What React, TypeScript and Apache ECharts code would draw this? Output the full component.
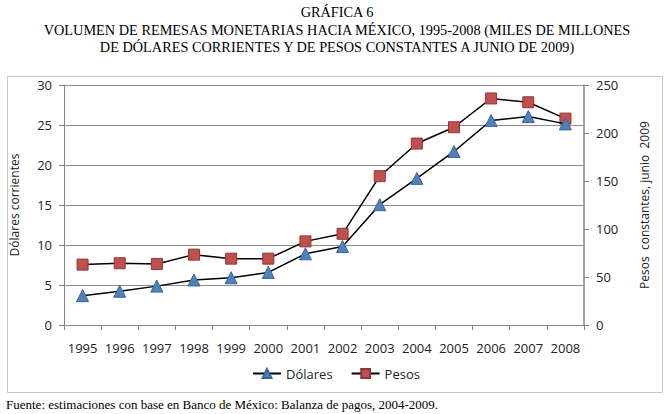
import React, { useEffect, useRef } from "react";
import * as echarts from "echarts";

const years = ["1995", "1996", "1997", "1998", "1999", "2000", "2001", "2002", "2003", "2004", "2005", "2006", "2007", "2008"];
const dolares = [3.67, 4.22, 4.86, 5.63, 5.91, 6.57, 8.9, 9.81, 15.04, 18.33, 21.69, 25.57, 26.06, 25.14];
const pesos = [62.9, 64.3, 63.6, 73.3, 69.1, 69.1, 87.1, 95.0, 155.0, 189.0, 206.0, 236.0, 232.0, 215.0];

const titleLines = [
  "GRÁFICA 6",
  "VOLUMEN DE REMESAS MONETARIAS HACIA MÉXICO, 1995-2008 (MILES DE MILLONES",
  "DE DÓLARES CORRIENTES Y DE PESOS CONSTANTES A JUNIO DE 2009)",
];
const sourceText = "Fuente: estimaciones con base en Banco de México: Balanza de pagos, 2004-2009.";
const leftName = "Dólares corrientes";
const rightName = "Pesos  constantes, junio  2009";

const sans = "Open Sans";
const serif = "Liberation Serif";

export default function App() {
  const ref = useRef<HTMLDivElement>(null);
  useEffect(() => {
    if (!ref.current) return;
    const chart = echarts.init(ref.current, undefined, { renderer: "svg" });
    const titleGraphics = titleLines.map((t, i) => ({
      type: "text",
      x: 337,
      y: 12 + i * 17.5,
      style: {
        text: t,
        fontFamily: serif,
        fontSize: 14.3,
        fill: "#000",
        align: "center",
        verticalAlign: "middle",
      },
    }));
    chart.setOption({
      animation: false,
      backgroundColor: "#ffffff",
      graphic: [
        ...titleGraphics,
        {
          type: "rect",
          shape: { x: 7.5, y: 76.5, width: 655, height: 316 },
          style: { fill: "none", stroke: "#c8c8c8", lineWidth: 1 },
          silent: true,
          z: -1,
        },
        {
          type: "text",
          x: 6,
          y: 404,
          style: { text: sourceText, fontFamily: serif, fontSize: 13, fill: "#000", verticalAlign: "middle" },
        },
      ],
      legend: {
        top: 362,
        left: "center",
        itemWidth: 28,
        itemHeight: 11,
        itemGap: 18,
        textStyle: { fontFamily: sans, fontSize: 13, color: "#222" },
        data: ["Dólares", "Pesos"],
      },
      grid: { left: 62, right: 88, top: 85, bottom: 89, containLabel: false },
      xAxis: {
        type: "category",
        data: years,
        boundaryGap: true,
        axisLine: { lineStyle: { color: "#868686", width: 1 } },
        axisTick: { show: true, length: 5, inside: false, interval: 0, lineStyle: { color: "#868686" } },
        axisLabel: { fontFamily: sans, fontSize: 13, color: "#222", margin: 16, interval: 0 },
      },
      yAxis: [
        {
          type: "value",
          min: 0,
          max: 30,
          interval: 5,
          position: "left",
          name: leftName,
          nameLocation: "middle",
          nameGap: 44,
          nameRotate: 90,
          nameTextStyle: { fontFamily: sans, fontSize: 12, color: "#222" },
          axisLine: { show: true, lineStyle: { color: "#868686" } },
          axisTick: { show: true, length: 5, lineStyle: { color: "#868686" } },
          axisLabel: { fontFamily: sans, fontSize: 13, color: "#222", margin: 12 },
          splitLine: { show: true, lineStyle: { color: "#8c8c8c", width: 1 } },
        },
        {
          type: "value",
          min: 0,
          max: 250,
          interval: 50,
          position: "right",
          name: rightName,
          nameLocation: "middle",
          nameGap: 54,
          nameRotate: 90,
          nameTextStyle: { fontFamily: sans, fontSize: 12, color: "#222" },
          axisLine: { show: true, lineStyle: { color: "#868686", width: 1.5 } },
          axisTick: { show: true, length: 5, lineStyle: { color: "#868686" } },
          axisLabel: { fontFamily: sans, fontSize: 13, color: "#222", margin: 12 },
          splitLine: { show: false },
        },
      ],
      series: [
        {
          name: "Dólares",
          type: "line",
          yAxisIndex: 0,
          data: dolares,
          symbol: "triangle",
          symbolSize: 12,
          lineStyle: { color: "#000", width: 1.5 },
          itemStyle: { color: "#4f81bd", borderColor: "#3a6496", borderWidth: 1 },
          z: 3,
        },
        {
          name: "Pesos",
          type: "line",
          yAxisIndex: 1,
          data: pesos,
          symbol: "rect",
          symbolSize: 11,
          lineStyle: { color: "#000", width: 1.5 },
          itemStyle: { color: "#c0504d", borderColor: "#8c3836", borderWidth: 1 },
          z: 2,
        },
      ],
    });
    return () => chart.dispose();
  }, []);
  return (
    <div
      ref={ref}
      style={{ position: "fixed", left: 0, top: 0, width: 672, height: 414, background: "#fff" }}
    />
  );
}
